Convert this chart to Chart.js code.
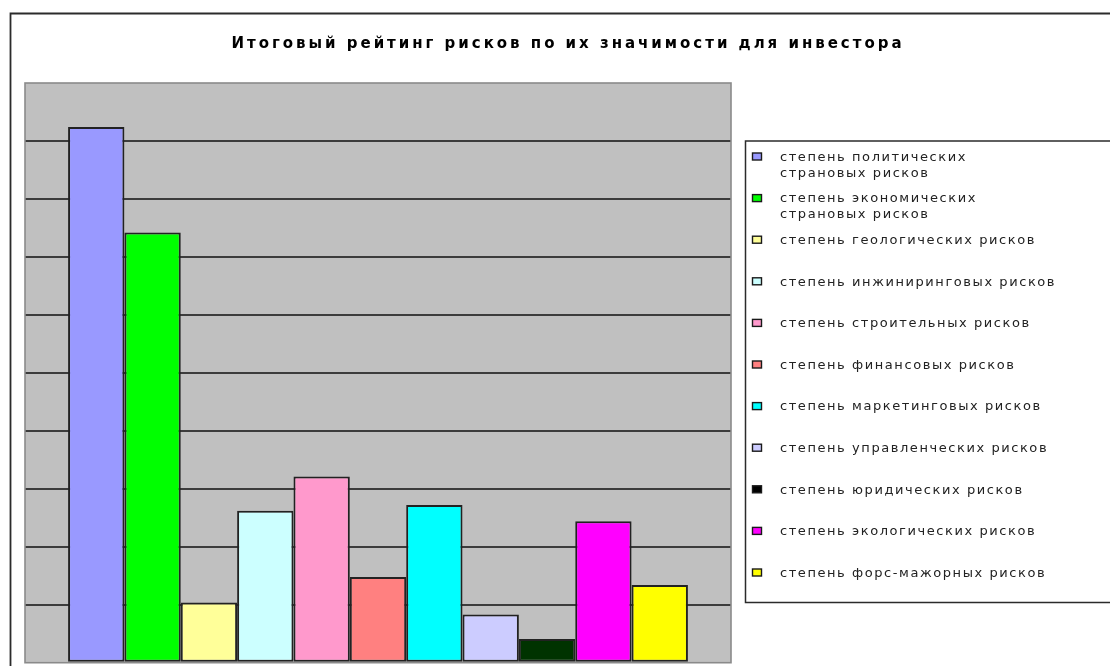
<!DOCTYPE html>
<html>
<head>
<meta charset="utf-8">
<script src="https://cdn.jsdelivr.net/npm/chart.js@4/dist/chart.umd.min.js"></script>
<style>
  html, body { margin: 0; padding: 0; background: #ffffff; overflow: hidden; }
  #wrap { position: relative; width: 1110px; height: 666px; }
  canvas { display: block; }
</style>
</head>
<body>
<div id="wrap"><canvas id="c" width="1110" height="666"></canvas></div>
<script>
// ---- data ----
const chartTitle = "Итоговый рейтинг рисков по их значимости для инвестора";
const seriesNames = [
  "степень политических\nстрановых рисков",
  "степень экономических\nстрановых рисков",
  "степень геологических рисков",
  "степень инжиниринговых рисков",
  "степень строительных рисков",
  "степень финансовых рисков",
  "степень маркетинговых рисков",
  "степень управленческих рисков",
  "степень юридических рисков",
  "степень экологических рисков",
  "степень форс-мажорных рисков"
];
const seriesValues = [9.24, 7.42, 1.04, 2.62, 3.21, 1.48, 2.72, 0.83, 0.41, 2.44, 1.34];
const seriesColors = ["#9999FF", "#00FF00", "#FFFF99", "#CCFFFF", "#FF99CC", "#FF8080",
                      "#00FFFF", "#CCCCFF", "#003300", "#FF00FF", "#FFFF00"];
const yMin = 0, yMax = 10, yStep = 1;

// ---- datasets built from the arrays ----
const datasets = seriesNames.map((name, i) => ({
  label: name,
  data: [seriesValues[i]],
  backgroundColor: seriesColors[i],
  borderColor: "#222222",
  borderWidth: 2,
  borderSkipped: false,
  barPercentage: 1.0,
  categoryPercentage: 0.878
}));

function spacedText(ctx, text, x, y, targetWidth, align) {
  ctx.letterSpacing = "0px";
  const n = text.length;
  const w0 = ctx.measureText(text).width;
  let ls = targetWidth ? (targetWidth - w0) / n : 0;
  ctx.letterSpacing = ls + "px";
  const w = ctx.measureText(text).width;
  let sx = x;
  if (align === "center") sx = x - w / 2;
  ctx.textAlign = "left";
  ctx.fillText(text, sx, y);
  ctx.letterSpacing = "0px";
  return ls;
}

const decor = {
  id: "decor",
  beforeDraw(chart) {
    const ctx = chart.ctx, a = chart.chartArea;
    ctx.save();
    // outer chart frame
    ctx.strokeStyle = "#2b2b2b";
    ctx.lineWidth = 1.8;
    ctx.beginPath();
    ctx.moveTo(1115, 13.5);
    ctx.lineTo(10.5, 13.5);
    ctx.lineTo(10.5, 670);
    ctx.stroke();
    // plot area background
    ctx.fillStyle = "#C0C0C0";
    ctx.fillRect(a.left, a.top, a.right - a.left, a.bottom - a.top);
    ctx.restore();
  },
  afterDatasetsDraw(chart) {
    const ctx = chart.ctx, a = chart.chartArea;
    ctx.save();
    ctx.strokeStyle = "#8a8a8a";
    ctx.lineWidth = 1.6;
    ctx.strokeRect(a.left, a.top, a.right - a.left, a.bottom - a.top);
    ctx.restore();
  },
  afterDraw(chart) {
    const ctx = chart.ctx;
    ctx.save();
    // title
    ctx.fillStyle = "#000";
    ctx.font = "bold 15px 'DejaVu Sans', Verdana, sans-serif";
    ctx.textBaseline = "middle";
    spacedText(ctx, chartTitle, 568, 44, 673, "center");

    // legend box
    ctx.strokeStyle = "#2b2b2b";
    ctx.lineWidth = 1.5;
    ctx.beginPath();
    ctx.moveTo(1115, 141);
    ctx.lineTo(745.5, 141);
    ctx.lineTo(745.5, 602.5);
    ctx.lineTo(1115, 602.5);
    ctx.stroke();

    ctx.font = "13px 'DejaVu Sans', Verdana, sans-serif";
    ctx.textBaseline = "middle";
    ctx.letterSpacing = "0px";
    const refText = chart.data.datasets[2].label;
    const lsRef = (256 - ctx.measureText(refText).width) / refText.length;
    chart.data.datasets.forEach((ds, i) => {
      const y = 156.5 + 41.6 * i;
      // marker
      ctx.fillStyle = ds.backgroundColor === "#003300" ? "#000000" : ds.backgroundColor;
      ctx.fillRect(752, y - 3.5, 10, 7);
      ctx.strokeStyle = "#1a1a1a";
      ctx.lineWidth = 1.4;
      ctx.strokeRect(752.5, y - 3.5, 9, 7);
      // text
      ctx.fillStyle = "#222";
      ctx.letterSpacing = lsRef + "px";
      const lines = ds.label.split("\n");
      lines.forEach((ln, k) => {
        ctx.textAlign = "left";
        ctx.fillText(ln, 780, y + 1 + k * 16);
      });
      ctx.letterSpacing = "0px";
    });
    ctx.restore();
  }
};

new Chart(document.getElementById("c"), {
  type: "bar",
  data: { labels: [""], datasets },
  options: {
    responsive: false,
    animation: false,
    devicePixelRatio: 1,
    layout: { padding: { left: 25, top: 83, right: 379, bottom: 3.3 } },
    plugins: {
      legend: { display: false },
      title: { display: false },
      tooltip: { enabled: false }
    },
    scales: {
      x: { display: false },
      y: {
        min: yMin, max: yMax,
        ticks: { display: false, stepSize: yStep },
        border: { display: false },
        grid: {
          drawTicks: false,
          lineWidth: 2,
          color: (c) => (c.tick && (c.tick.value === yMin || c.tick.value === yMax)) ? "rgba(0,0,0,0)" : "#3c3c3c"
        }
      }
    }
  },
  plugins: [decor]
});
</script>
</body>
</html>
